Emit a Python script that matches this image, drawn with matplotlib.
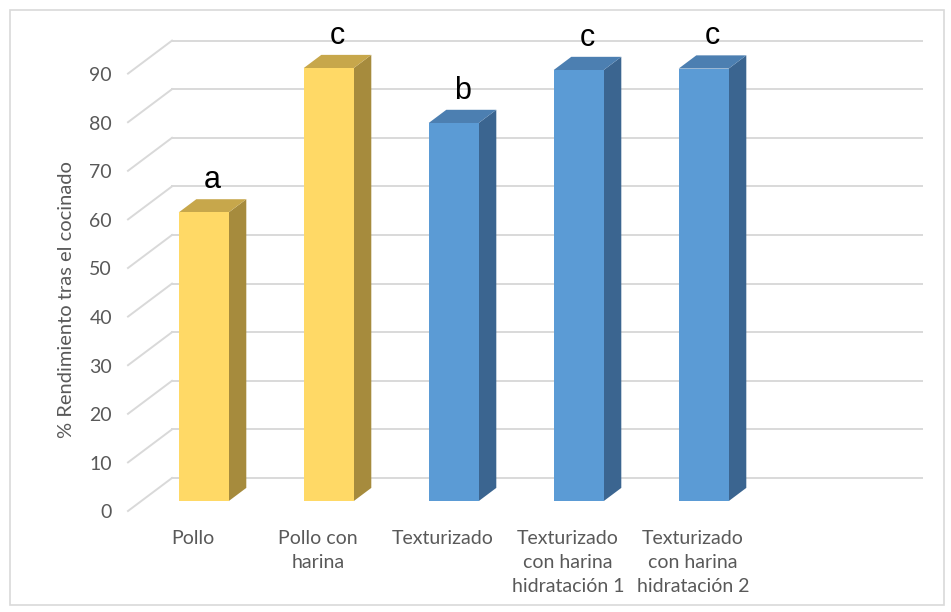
import matplotlib
matplotlib.use("Agg")
import matplotlib.pyplot as plt
from matplotlib.patches import Polygon, Rectangle

# ---- data ----
categories = ["Pollo", "Pollo con\nharina", "Texturizado",
              "Texturizado\ncon harina\nhidratación 1",
              "Texturizado\ncon harina\nhidratación 2"]
values = [59.4, 89.1, 77.8, 88.7, 89.0]
letters = ["a", "c", "b", "c", "c"]
groups = [0, 0, 1, 1, 1]          # 0 = yellow, 1 = blue
yticks = list(range(0, 100, 10))
ylabel = "% Rendimiento tras el cocinado"
n_slots = 6                       # Excel category slots (last one empty)

# ---- styles ----
face_cols = ["#FFD966", "#5B9BD5"]
side_cols = ["#A68B3D", "#3B6590"]
top_cols = ["#C7A74B", "#4C7FB1"]
grid_col = "#D9D9D9"
txt_col = "#595959"

W, H = 951, 612
fig = plt.figure(figsize=(W / 100, H / 100), dpi=100)
ax = fig.add_axes([0, 0, 1, 1])

# pixel geometry of the front plane
px_per_cat = 125.0
x0_px = 128.0        # left edge of front plane
y0_px = 511.0        # value 0 on front plane (from top)
px_per_unit = 4.86
ax.set_xlim(-0.5 - x0_px / px_per_cat, -0.5 + (W - x0_px) / px_per_cat)
ax.set_ylim((y0_px - H) / px_per_unit, y0_px / px_per_unit)
ax.axis("off")

DX = 44.0 / px_per_cat      # full depth shift in category units
DV = 33.0 / px_per_unit     # full depth shift in value units


def P(x, v, d):
    return (x + d * DX, v + d * DV)


xl, xr = -0.5, n_slots - 0.5
for v in yticks:
    ax.plot(*zip(P(xl, v, 1), P(xr, v, 1)), color=grid_col, lw=1.4, zorder=1)
    ax.plot(*zip(P(xl, v, 0), P(xl, v, 1)), color=grid_col, lw=1.4, zorder=1)
    ax.text(xl - 16 / px_per_cat, v - 0.4, str(v), ha="right", va="center",
            color=txt_col, fontsize=14, family=["Lato", "DejaVu Sans"])

bw = 0.2
d0, d1 = 0.3, 0.7
for i, (val, g) in enumerate(zip(values, groups)):
    a, b = i - bw, i + bw
    front = [P(a, 0, d0), P(b, 0, d0), P(b, val, d0), P(a, val, d0)]
    side = [P(b, 0, d0), P(b, 0, d1), P(b, val, d1), P(b, val, d0)]
    top = [P(a, val, d0), P(b, val, d0), P(b, val, d1), P(a, val, d1)]
    ax.add_patch(Polygon(side, closed=True, fc=side_cols[g], ec="none", zorder=3))
    ax.add_patch(Polygon(top, closed=True, fc=top_cols[g], ec="none", zorder=3))
    ax.add_patch(Polygon(front, closed=True, fc=face_cols[g], ec="none", zorder=4))
    lx, ly = P(i, val, 0.5)
    ax.text(lx, ly + 3.6, letters[i], ha="center", va="baseline",
            fontsize=22, color="black", family=["Liberation Sans", "DejaVu Sans"],
            zorder=5)

for i, lab in enumerate(categories):
    ax.text(i + 0.02, (y0_px - 530) / px_per_unit, lab, ha="center", va="top",
            multialignment="center", linespacing=1.5, color=txt_col,
            fontsize=14, family=["Lato", "DejaVu Sans"])

ax.text(xl - 62 / px_per_cat, (y0_px - 300) / px_per_unit, ylabel,
        rotation=90, ha="center", va="center", color=txt_col, fontsize=14.5,
        family=["Lato", "DejaVu Sans"])

fig.add_artist(Rectangle((10 / W, 7 / H), 934 / W, 595 / H,
                         transform=fig.transFigure, fill=False,
                         ec=grid_col, lw=1.2))

fig.savefig("out.png", dpi=100)
